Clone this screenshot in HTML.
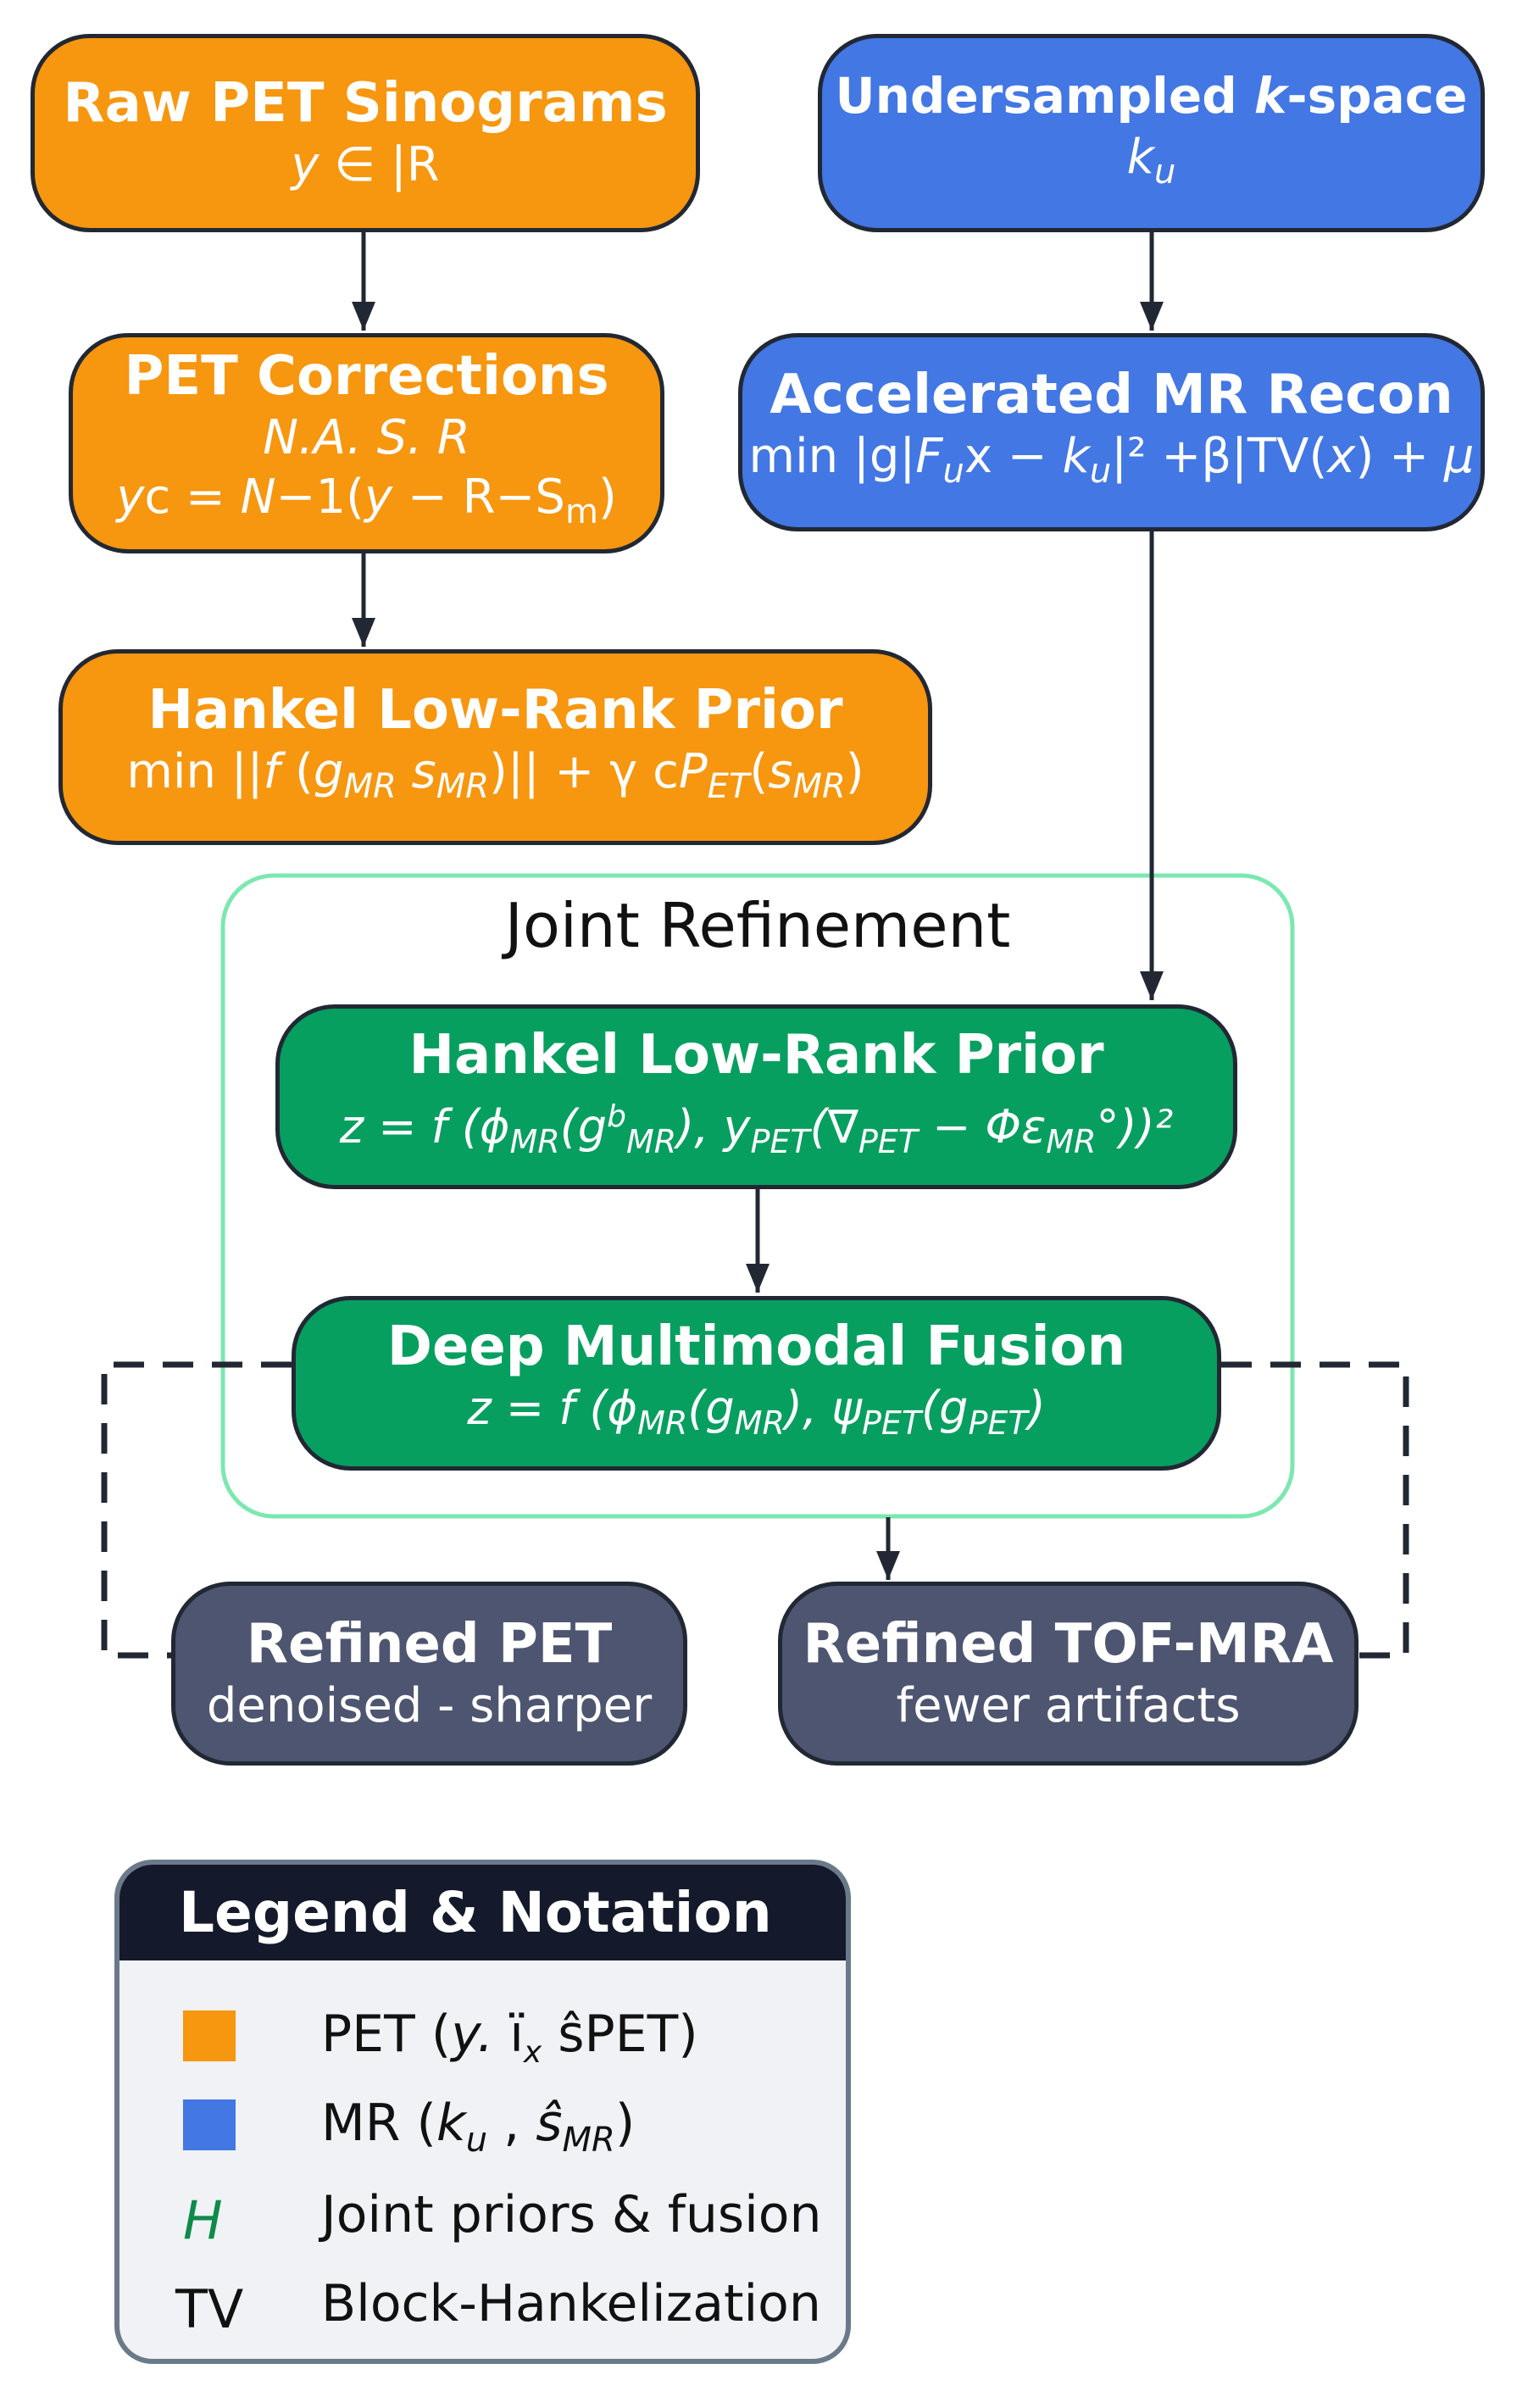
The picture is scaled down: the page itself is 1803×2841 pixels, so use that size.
<!DOCTYPE html>
<html><head><meta charset="utf-8"><style>
html,body{margin:0;padding:0;background:#fff;}
body{width:1803px;height:2841px;position:relative;overflow:hidden;font-family:"DejaVu Sans","Liberation Sans",sans-serif;}
.b{position:absolute;box-sizing:border-box;border:5px solid #222833;border-radius:70px;color:#fff;text-align:center;display:flex;flex-direction:column;justify-content:center;align-items:center;}
.t{font-weight:bold;font-size:64px;line-height:76px;white-space:nowrap;}
.s{font-size:56px;line-height:70px;white-space:nowrap;font-family:"DejaVu Sans",sans-serif;}
.i{font-style:italic;}
.o{background:#f7960f;}
.bl{background:#4277e4;}
.g{background:#069f60;}
.d{background:#4d5570;}
svg{position:absolute;left:0;top:0;}
</style></head><body>
<svg width="1803" height="2841">
<defs>
<marker id="m" markerWidth="34" markerHeight="34" refX="34" refY="14" orient="auto" markerUnits="userSpaceOnUse"><path d="M0,0 L34,14 L0,28 z" fill="#222833"/></marker></defs>
<rect x="263" y="1033" width="1262" height="756" rx="60" fill="none" stroke="#7be8b0" stroke-width="5"/>
<g stroke="#222833" stroke-width="5" fill="none">
<line x1="429" y1="274" x2="429" y2="390" marker-end="url(#m)"/>
<line x1="1359" y1="274" x2="1359" y2="390" marker-end="url(#m)"/>
<line x1="429" y1="653" x2="429" y2="763" marker-end="url(#m)"/>
<line x1="1359" y1="627" x2="1359" y2="1180" marker-end="url(#m)"/>
<line x1="894" y1="1403" x2="894" y2="1525" marker-end="url(#m)"/>
<line x1="1048" y1="1790" x2="1048" y2="1864" marker-end="url(#m)"/>
</g>
<g stroke="#222833" stroke-width="7" fill="none">
<path d="M344 1610 H123 V1953 H202" stroke-dasharray="36 22"/>
<path d="M1441 1610 H1659 V1953 H1603" stroke-dasharray="36 22"/>
</g>
</svg>
<div class="b o" style="left:36px;top:40px;width:790px;height:234px;"><div class="t">Raw PET Sinograms</div><div class="s"><span class="i">y</span> ∈ |R</div></div>
<div class="b bl" style="left:965px;top:40px;width:787px;height:234px;"><div class="t" style="font-size:58px;">Undersampled <span class="i">k</span>-space</div><div class="s i">k<sub style="font-size:40px">u</sub></div></div>
<div class="b o" style="left:81px;top:393px;width:703px;height:260px;"><div class="t">PET Corrections</div><div class="s i">N.A. S. R</div><div class="s"><span class="i">y</span>c = <span class="i">N</span>−1(<span class="i">y</span> − R−S<sub style="font-size:40px">m</sub>)</div></div>
<div class="b bl" style="left:871px;top:393px;width:881px;height:234px;"><div class="t">Accelerated MR Recon</div><div class="s">min |g|<span class="i">F<sub style="font-size:40px">u</sub></span>x − <span class="i">k<sub style="font-size:40px">u</sub></span>|² +β|TV(<span class="i">x</span>) + <span class="i">μ</span></div></div>
<div class="b o" style="left:69px;top:766px;width:1031px;height:231px;"><div class="t">Hankel Low-Rank Prior</div><div class="s">min ||<span class="i">f</span> (<span class="i">g<sub style="font-size:40px">MR</sub> s<sub style="font-size:40px">MR</sub></span>)|| + γ c<span class="i">P<sub style="font-size:40px">ET</sub></span>(<span class="i">s<sub style="font-size:40px">MR</sub></span>)</div></div>
<div style="position:absolute;left:263px;top:1050px;width:1262px;text-align:center;font-size:72px;color:#111;">Joint Refinement</div>
<div class="b g" style="left:325px;top:1185px;width:1135px;height:218px;"><div class="t">Hankel Low-Rank Prior</div><div class="s i" style="font-size:54px">z = f (ϕ<sub style="font-size:38px">MR</sub>(g<sup style="font-size:36px">b</sup><sub style="font-size:38px">MR</sub>), y<sub style="font-size:38px">PET</sub>(∇<sub style="font-size:38px">PET</sub> − Φε<sub style="font-size:38px">MR</sub>°))²</div></div>
<div class="b g" style="left:344px;top:1529px;width:1097px;height:206px;"><div class="t">Deep Multimodal Fusion</div><div class="s i" style="font-size:54px">z = f (ϕ<sub style="font-size:38px">MR</sub>(g<sub style="font-size:38px">MR</sub>), ψ<sub style="font-size:38px">PET</sub>(g<sub style="font-size:38px">PET</sub>)</div></div>
<div class="b d" style="left:202px;top:1866px;width:609px;height:217px;"><div class="t">Refined PET</div><div class="s">denoised - sharper</div></div>
<div class="b d" style="left:918px;top:1866px;width:685px;height:217px;"><div class="t">Refined TOF-MRA</div><div class="s">fewer artifacts</div></div>
<div style="position:absolute;left:135px;top:2194px;width:869px;height:595px;box-sizing:border-box;border:6px solid #6b7a8a;border-radius:45px;background:#f0f2f5;overflow:hidden;">
<div style="height:113px;background:#141a2b;color:#fff;font-weight:bold;font-size:66px;line-height:113px;padding-left:70px;">Legend &amp; Notation</div>
<div style="position:absolute;left:75px;top:172px;width:62px;height:60px;background:#f7960f;"></div>
<div style="position:absolute;left:75px;top:277px;width:62px;height:60px;background:#4277e4;"></div>
<div style="position:absolute;left:75px;top:383px;font-size:62px;color:#0e8a4a;font-style:italic;">H</div>
<div style="position:absolute;left:66px;top:488px;font-size:62px;color:#111;">TV</div>
<div style="position:absolute;left:238px;top:160px;font-size:60px;color:#111;line-height:80px;">PET (<i>y.</i> ï<sub style="font-size:36px"><i>x</i></sub> ŝPET)</div>
<div style="position:absolute;left:238px;top:265px;font-size:60px;color:#111;line-height:80px;">MR (<i>k<sub style="font-size:40px">u</sub></i> , <i>ŝ<sub style="font-size:40px">MR</sub></i>)</div>
<div style="position:absolute;left:238px;top:373px;font-size:60px;color:#111;line-height:80px;">Joint priors &amp; fusion</div>
<div style="position:absolute;left:238px;top:478px;font-size:60px;color:#111;line-height:80px;">Block-Hankelization</div>
</div>
</body></html>
